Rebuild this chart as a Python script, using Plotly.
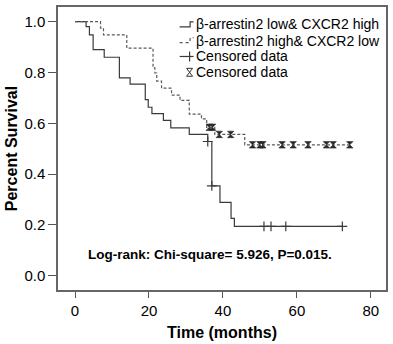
import plotly.graph_objects as go

# --- data ---
low_high_time = [0, 3.0, 3.9, 4.9, 7.9, 12.0, 14.9, 19.0, 19.8, 20.8, 23.9, 25.9, 30.9, 35.9, 37.0, 39.2, 42.2, 43.1, 72.3]
low_high_surv = [1.0, 0.981, 0.948, 0.890, 0.860, 0.779, 0.754, 0.693, 0.663, 0.638, 0.611, 0.582, 0.556, 0.528, 0.353, 0.288, 0.225, 0.194, 0.194]
low_high_cens_time = [35.9, 37.0, 51.1, 53.0, 57.0, 72.3]
low_high_cens_surv = [0.528, 0.353, 0.194, 0.194, 0.194, 0.194]

high_low_time = [0, 6.9, 7.7, 14.0, 21.1, 21.6, 22.1, 23.4, 26.1, 28.4, 30.9, 34.2, 35.6, 37.8, 45.9, 74.3]
high_low_surv = [1.0, 0.975, 0.948, 0.896, 0.818, 0.798, 0.766, 0.738, 0.711, 0.690, 0.636, 0.617, 0.584, 0.556, 0.515, 0.515]
high_low_cens_time = [36.3, 37.2, 39.0, 42.1, 48.0, 50.0, 50.8, 56.0, 59.0, 63.0, 68.0, 69.8, 74.3]
high_low_cens_surv = [0.584, 0.584, 0.556, 0.556, 0.515, 0.515, 0.515, 0.515, 0.515, 0.515, 0.515, 0.515, 0.515]

x_ticks = [0, 20, 40, 60, 80]
y_ticks = [0.0, 0.2, 0.4, 0.6, 0.8, 1.0]
legend_labels = ["β-arrestin2 low& CXCR2 high", "β-arrestin2 high& CXCR2 low", "Censored data", "Censored data"]
stat_text = "Log-rank: Chi-square= 5.926, P=0.015."

SOLID = "#3a3a3a"
DASH = "#5a5a5a"
FONT = "Liberation Sans, Arial, sans-serif"

fig = go.Figure()
fig.add_trace(go.Scatter(x=low_high_time, y=low_high_surv, mode="lines", line_shape="hv",
                         line=dict(color=SOLID, width=1.2), showlegend=False))
fig.add_trace(go.Scatter(x=high_low_time, y=high_low_surv, mode="lines", line_shape="hv",
                         line=dict(color=DASH, width=1.2, dash="3px,2px"), showlegend=False))
fig.add_trace(go.Scatter(x=low_high_cens_time, y=low_high_cens_surv, mode="markers",
                         marker=dict(symbol="cross-thin", size=7, line=dict(color=SOLID, width=1.2)),
                         showlegend=False))
fig.add_trace(go.Scatter(x=high_low_cens_time, y=high_low_cens_surv, mode="markers",
                         marker=dict(symbol="hourglass", size=6.5, color="#2a2a2a",
                                     line=dict(color="#2a2a2a", width=0.6)),
                         showlegend=False))

# plot-area pixel frame (for legend placement)
L, R, T, B = 58, 387, 5, 291
def px(x):
    return (x - L) / (R - L)
def py(y):
    return (B - y) / (B - T)

shapes = []
shapes.append(dict(type="path", xref="paper", yref="paper",
                   path=f"M {px(180)} {py(25)} L {px(190.5)} {py(25)} L {px(190.5)} {py(20)} L {px(194)} {py(20)}",
                   line=dict(color=SOLID, width=1.2)))
shapes.append(dict(type="path", xref="paper", yref="paper",
                   path=f"M {px(180)} {py(41)} L {px(190.5)} {py(41)} L {px(190.5)} {py(36)} L {px(194)} {py(36)}",
                   line=dict(color=DASH, width=1.2, dash="dot")))
shapes.append(dict(type="line", xref="paper", yref="paper", x0=px(180), x1=px(194), y0=py(55), y1=py(55),
                   line=dict(color=SOLID, width=1.2)))
shapes.append(dict(type="line", xref="paper", yref="paper", x0=px(190), x1=px(190), y0=py(50), y1=py(60),
                   line=dict(color=SOLID, width=1.2)))
shapes.append(dict(type="path", xref="paper", yref="paper",
                   path=f"M {px(187)} {py(67)} L {px(193)} {py(67)} L {px(187)} {py(75)} L {px(193)} {py(75)} Z",
                   line=dict(color="#333333", width=1), fillcolor="rgba(0,0,0,0)"))

annotations = []
rows_y = [22, 39, 55, 71]
for lbl, yy in zip(legend_labels, rows_y):
    annotations.append(dict(text=lbl, xref="paper", yref="paper", x=px(194), y=py(yy),
                            xanchor="left", yanchor="middle", showarrow=False,
                            font=dict(family=FONT, size=14, color="#000000")))
annotations.append(dict(text=f"<b>{stat_text}</b>", xref="paper", yref="paper", x=px(210), y=py(255),
                        xanchor="center", yanchor="middle", showarrow=False,
                        font=dict(family=FONT, size=13.5, color="#000000")))

fig.update_layout(
    width=393, height=344,
    margin=dict(l=L, r=393 - R, t=T, b=344 - B),
    paper_bgcolor="white", plot_bgcolor="white",
    font=dict(family=FONT, color="#000000"),
    shapes=shapes, annotations=annotations,
    showlegend=False,
)
fig.update_xaxes(range=[-4.6, 84.1], tickvals=x_ticks, ticktext=[str(v) for v in x_ticks],
                 ticks="outside", ticklen=6, tickcolor="#555", tickwidth=1.2,
                 showline=True, mirror=True, linecolor="#666", linewidth=1.5,
                 showgrid=False, zeroline=False, tickfont=dict(size=15, family=FONT),
                 title=dict(text="<b>Time (months)</b>", font=dict(size=16, family=FONT), standoff=9))
fig.update_yaxes(range=[-0.057, 1.058], tickvals=y_ticks, ticktext=[f"{v:.1f}" for v in y_ticks],
                 ticks="outside", ticklen=8, tickcolor="#555", tickwidth=1.2,
                 showline=True, mirror=True, linecolor="#666", linewidth=1.5,
                 showgrid=False, zeroline=False, tickfont=dict(size=15, family=FONT),
                 title=dict(text="<b>Percent Survival</b>", font=dict(size=16, family=FONT), standoff=3))

fig.write_html("out.html", post_script="document.body.style.margin='0px';",
               config={"displayModeBar": False})
